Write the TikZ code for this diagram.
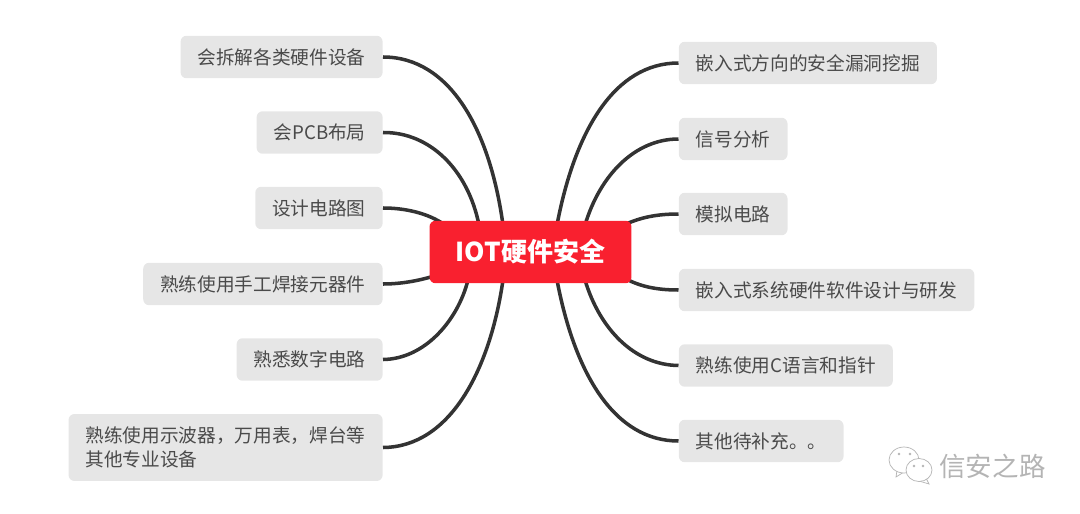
\documentclass[tikz,border=0pt]{standalone}
\usepackage{fontspec}
\setmainfont{Noto Sans CJK SC}
\usepackage{xcolor}
\usepackage{tikz}

\definecolor{leafgray}{HTML}{E6E6E6}
\definecolor{leaftext}{HTML}{4A4A4A}
\definecolor{rootred}{HTML}{F9202F}
\definecolor{branchdark}{HTML}{333333}
\definecolor{markgray}{HTML}{B4B4B4}

\tikzset{
  leafbox/.style = {fill = leafgray,rounded corners = 0.12cm,text = leaftext,font = \fontsize{10.63pt}{13.9pt}\selectfont,
    inner xsep = 0.34cm,inner ysep = 0pt,minimum height = 0.85cm,align = left},
  leftleaf/.style = {leafbox,anchor = east},
  rightleaf/.style = {leafbox,anchor = west},
  rootbox/.style = {fill = rootred,rounded corners = 0.12cm,text = white,font = \fontsize{14.8pt}{18pt}\selectfont\bfseries,
    minimum width = 4.04cm,minimum height = 1.25cm,inner sep = 0pt},
  branch/.style = {draw = branchdark,line width = 2pt},
  markline/.style = {draw = markgray,line width = 0.4pt,fill = white}
}

\begin{document}
\begin{tikzpicture}[x = 0.02cm,y = -0.02cm]
  \useasboundingbox (0,0) rectangle (1080,514);
  % left side
  \node[leftleaf] (setup) at (383,57) {会拆解各类硬件设备};
  \node[leftleaf] (pcb) at (383,132.5) {会PCB布局};
  \node[leftleaf] (schem) at (383,208) {设计电路图};
  \node[leftleaf] (solder) at (383,284) {熟练使用手工焊接元器件};
  \node[leftleaf] (digital) at (383,359.5) {熟悉数字电路};
  \node[leftleaf,minimum height = 1.34cm] (scope) at (383,447.5) {熟练使用示波器，万用表，焊台等\\其他专业设备};
  % right side
  \node[rightleaf] (vuln) at (678.5,63) {嵌入式方向的安全漏洞挖掘};
  \node[rightleaf] (signal) at (678.5,139) {信号分析};
  \node[rightleaf] (analog) at (678.5,214) {模拟电路};
  \node[rightleaf] (embedded) at (678.5,290) {嵌入式系统硬件软件设计与研发};
  \node[rightleaf] (clang) at (678.5,365.5) {熟练使用C语言和指针};
  \node[rightleaf] (other) at (678.5,441) {其他待补充。。};
  % ends of the branches, hidden by the root box
  \coordinate (inA) at (503,225);
  \coordinate (inB) at (479,225);
  \coordinate (inC) at (445,225);
  \coordinate (inD) at (434,276);
  \coordinate (inE) at (468,280);
  \coordinate (inF) at (503,280);
  \coordinate (inG) at (557,225);
  \coordinate (inH) at (585,225);
  \coordinate (inI) at (626,224);
  \coordinate (inJ) at (626,279);
  \coordinate (inK) at (585,280);
  \coordinate (inL) at (557,280);
  % branches
  \draw[branch](setup.east) .. controls (450,57) and (490,130) .. (inA);
  \draw[branch](pcb.east) .. controls (430,132) and (468,170) .. (inB);
  \draw[branch](schem.east) .. controls (405,208) and (428,213) .. (inC);
  \draw[branch](solder.east) .. controls (400,284) and (418,281) .. (inD);
  \draw[branch](digital.east) .. controls (425,359) and (458,320) .. (inE);
  \draw[branch](scope.east) .. controls (450,447) and (490,370) .. (inF);
  \draw[branch](vuln.west) .. controls (615,63) and (575,130) .. (inG);
  \draw[branch](signal.west) .. controls (635,139) and (600,175) .. (inH);
  \draw[branch](analog.west) .. controls (655,214) and (640,218) .. (inI);
  \draw[branch](embedded.west) .. controls (655,290) and (640,286) .. (inJ);
  \draw[branch](clang.west) .. controls (635,365) and (600,330) .. (inK);
  \draw[branch](other.west) .. controls (615,441) and (575,375) .. (inL);
  \node[rootbox] (root) at (530.5,252) {IOT硬件安全};
  % watermark
  \draw[markline] (897,470) -- (896,477) -- (904,472) -- cycle;
  \draw[markline] (904,460) ellipse (15 and 13);
  \fill[markgray] (899,454) circle (1.3);
  \fill[markgray] (910,454) circle (1.3);
  \draw[markline] (926,478) -- (929,484) -- (919,481) -- cycle;
  \draw[markline] (919,470) ellipse (13 and 11.5);
  \fill[markgray] (914,466) circle (1.3);
  \fill[markgray] (923,466) circle (1.3);
  \node[text = markgray,font = \fontsize{15.1pt}{16pt}\selectfont,inner sep = 0pt] (sign) at (992.5,466) {信安之路};
\end{tikzpicture}
\end{document}
